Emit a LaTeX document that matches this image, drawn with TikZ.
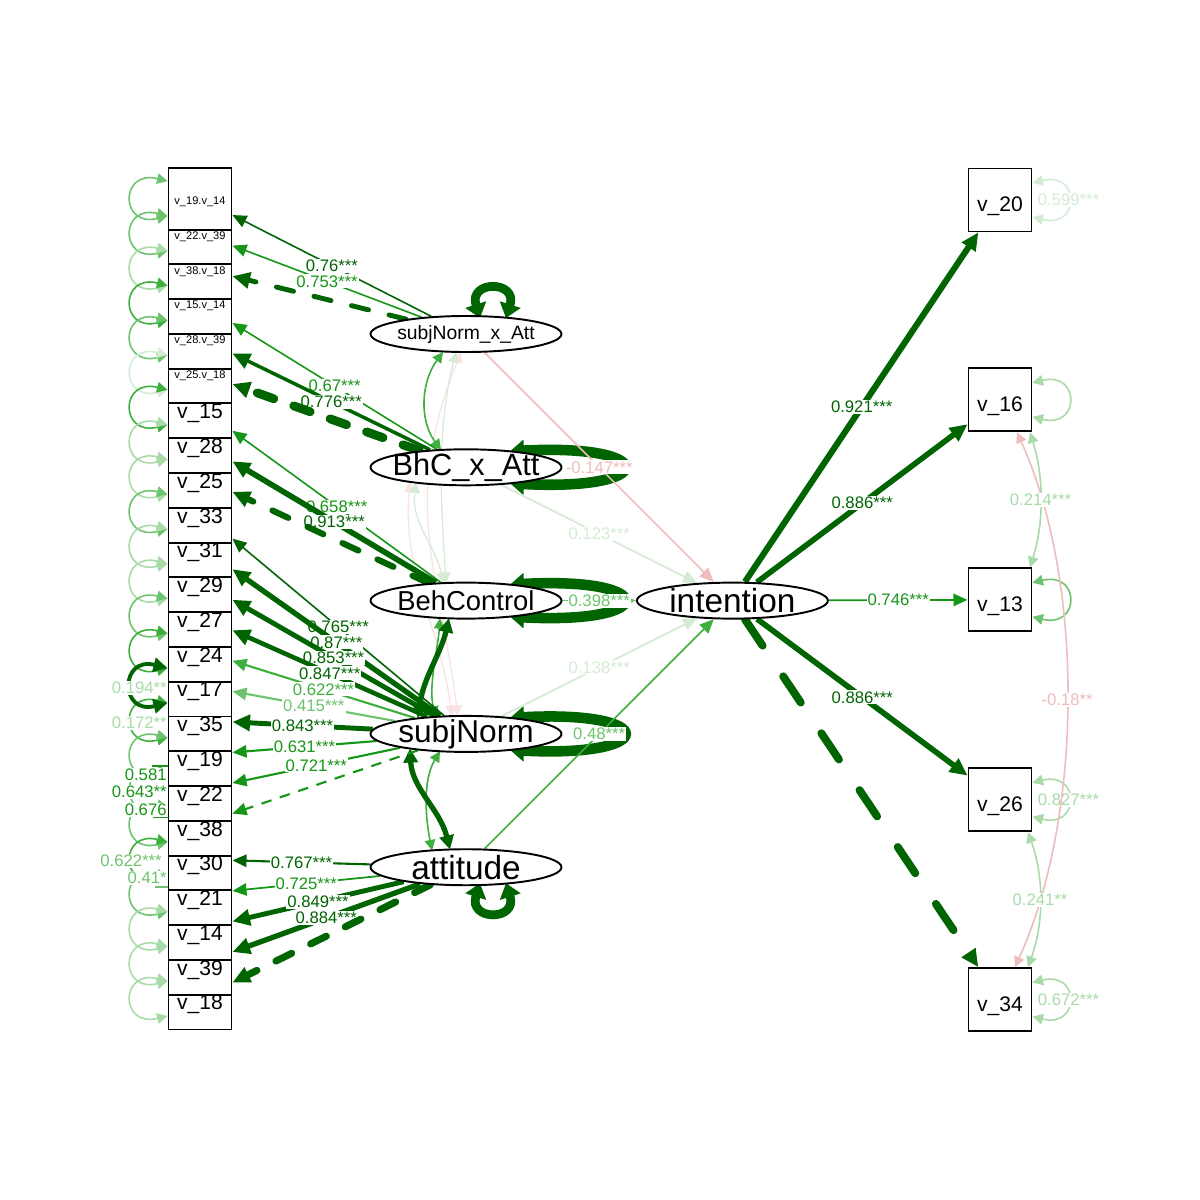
\documentclass[tikz,border=0pt]{standalone}
\usepackage{fontspec}
\setmainfont{Liberation Sans}
\usetikzlibrary{arrows.meta, shapes.geometric, positioning}
\pgfdeclarelayer{edgelayer}
\pgfsetlayers{edgelayer,main}
\definecolor{dkgr}{RGB}{0,100,0}
\definecolor{gr}{RGB}{22,150,22}
\definecolor{mgr}{RGB}{60,175,60}
\definecolor{lgr}{RGB}{110,196,110}
\definecolor{pgr}{RGB}{168,219,168}
\definecolor{vpgr}{RGB}{212,236,212}
\definecolor{pk}{RGB}{238,188,188}
\definecolor{vpk}{RGB}{248,226,226}
\tikzset{
  manif/.style={draw, line width=1.1pt, fill=white, minimum width=1.26cm, minimum height=1.24cm, inner sep=0pt, text height=13pt, text depth=0pt, font=\fontsize{12}{12}\selectfont},
  manifs/.style={manif, text height=6.7pt, font=\fontsize{6.3}{6.3}\selectfont},
  manr/.style={manif, minimum height=1.26cm},
  lat/.style={draw, ellipse, line width=1.1pt, fill=white, minimum width=3.82cm, minimum height=0.72cm, inner sep=0pt},
  ld/.style={-{Triangle[length=8pt,width=7pt]}},
  ldk/.style={-{Triangle[length=10pt,width=9pt]}},
  dsh/.style={dash pattern=on 10pt off 12pt, line cap=round},
  dvar/.style={{Triangle[length=6pt,width=6pt]}-{Triangle[length=6pt,width=6pt]}},
  dvarm/.style={{Triangle[length=8pt,width=8pt]}-{Triangle[length=8pt,width=8pt]}},
  dvark/.style={{Triangle[length=8pt,width=12pt]}-{Triangle[length=8pt,width=12pt]}},
  wlbl/.style={fill=white, inner sep=0.6pt, font=\fontsize{9.5}{9.5}\selectfont}
}
\begin{document}
\begin{tikzpicture}[x=0.02cm, y=-0.02cm]
  \useasboundingbox (0,0) rectangle (1200,1200);
  % item column, drawn from the bottom up
  \foreach \nm/\tx [count=\k from 0] in {v18/v\_18, v39/v\_39, v14/v\_14, v21/v\_21, v30/v\_30, v38/v\_38, v22/v\_22, v19/v\_19, v35/v\_35, v17/v\_17, v24/v\_24, v27/v\_27, v29/v\_29, v31/v\_31, v33/v\_33, v25/v\_25, v28/v\_28, v15/v\_15}
    \node[manif] (\nm) at (200,{998.5-34.78*\k}) {\tx};
  \foreach \nm/\tx [count=\k from 18] in {v25x18/v\_25.v\_18, v28x39/v\_28.v\_39, v15x14/v\_15.v\_14, v38x18/v\_38.v\_18, v22x39/v\_22.v\_39, v19x14/v\_19.v\_14}
    \node[manifs] (\nm) at (200,{998.5-34.78*\k}) {\tx};
  % latent variables
  \node[lat, label={[font=\fontsize{11}{11}\selectfont]center:subjNorm\_x\_Att}] (snxa) at (466,334) {};
  \node[lat, below=1.908cm of snxa, label={[font=\fontsize{17.5}{17.5}\selectfont]center:BhC\_x\_Att}] (bhcxa) {};
  \node[lat, below=1.908cm of bhcxa, label={[font=\fontsize{15.6}{15.6}\selectfont]center:BehControl}] (behc) {};
  \node[lat, below=1.908cm of behc, label={[font=\fontsize{18}{18}\selectfont]center:subjNorm}] (sn) {};
  \node[lat, below=1.908cm of sn, label={[font=\fontsize{19}{19}\selectfont]center:attitude}] (att) {};
  \node[lat, right=1.47cm of behc, label={[font=\fontsize{19}{19}\selectfont]center:intention}] (int) {};
  % outcome items
  \node[manr] (v20) at (1000,200) {v\_20};
  \node[manr, below=2.70cm of v20] (v16) {v\_16};
  \node[manr, below=2.70cm of v16] (v13) {v\_13};
  \node[manr, below=2.70cm of v13] (v26) {v\_26};
  \node[manr, below=2.70cm of v26] (v34) {v\_34};

  \begin{pgfonlayer}{edgelayer}
    \fill[white] (0,0) rectangle (1200,1200);
    % residual variances of the items
    \foreach \nm/\cl in {v19x14/lgr, v22x39/lgr, v38x18/pgr, v15x14/mgr, v28x39/lgr, v25x18/vpgr, v15/mgr, v28/pgr, v25/pgr, v33/lgr, v31/pgr, v29/pgr, v27/lgr, v24/mgr, v35/mgr, v19/lgr, v22/lgr, v38/lgr, v30/mgr, v21/lgr, v14/pgr, v39/pgr, v18/pgr}
      \draw[dvar, color=\cl, line width=0.9pt] ([shift={(0,-17.4)}]\nm.west) .. controls +(-48,-12) and +(-48,12) .. ([shift={(0,17.4)}]\nm.west);
    \draw[dvarm, dkgr, line width=2.2pt] ([shift={(0,-17.4)}]v17.west) .. controls +(-48,-12) and +(-48,12) .. ([shift={(0,17.4)}]v17.west);
    \draw[gr, line width=1.3pt] (152,766) -- (169,766);
    \draw[gr, line width=1.3pt] (160,788) -- (169,788);
    \draw[gr, line width=1.3pt] (153,817) -- (169,817);
    \draw[lgr, line width=1.3pt] (155,887) -- (169,887);
    \node[wlbl, text=pgr, anchor=east] (c194) at (168,688) {0.194**};
    \node[wlbl, text=pgr, anchor=east] (c172) at (168,723) {0.172**};
    \node[wlbl, text=gr, anchor=east] (c581) at (168,775) {0.581};
    \node[wlbl, text=gr, anchor=east] (c643) at (168,792) {0.643**};
    \node[wlbl, text=gr, anchor=east] (c676) at (168,810) {0.676};
    \node[wlbl, text=lgr, anchor=east] (c622) at (163,861) {0.622***};
    \node[wlbl, text=lgr, anchor=east] (c41) at (168,878) {0.41*};

    % latent covariances
    \draw[dvar, vpk, line width=0.7pt] ([shift={(-56,14.6)}]bhcxa.center) .. controls +(-8,90) and +(-12,-90) .. ([shift={(-14,-17.8)}]sn.center);
    \draw[dvar, vpk, line width=0.7pt] ([shift={(-5,18)}]snxa.center) .. controls +(-60,150) and +(-20,-150) .. ([shift={(-8,-17.9)}]sn.center);
    \draw[dvar, vpgr, line width=0.7pt] ([shift={(-10,18)}]snxa.center) .. controls +(-20,80) and +(-5,-80) .. ([shift={(-20,-17.6)}]behc.center);
    \draw[dvar, vpgr, line width=0.7pt] ([shift={(-50,15)}]bhcxa.center) .. controls +(-5,40) and +(-10,-40) .. ([shift={(-22,-17.5)}]behc.center);
    \draw[dvar, mgr, line width=0.9pt] ([shift={(-23,18)}]snxa.center) .. controls +(-22,30) and +(-22,-30) .. ([shift={(-25,-17.4)}]bhcxa.center);
    \draw[dvar, mgr, line width=0.9pt] ([shift={(-30,-17)}]sn.center) .. controls +(-8,-30) and +(-2,30) .. ([shift={(-26,17.5)}]behc.center);
    \draw[dvarm, dkgr, line width=3pt] ([shift={(-48,-15.6)}]sn.center) .. controls +(5,-40) and +(-8,35) .. ([shift={(-17,17.7)}]behc.center);
    \draw[dvar, mgr, line width=0.9pt] ([shift={(-26,17.3)}]sn.center) .. controls +(-18,30) and +(-6,-30) .. ([shift={(-34,-16.8)}]att.center);
    \draw[dvarm, dkgr, line width=3pt] ([shift={(-56,14.6)}]sn.center) .. controls +(2,40) and +(-10,-40) .. ([shift={(-16,-17.7)}]att.center);
    % latent variances
    \draw[dvark, dkgr, line width=5pt] ([shift={(14,-16)}]snxa.center) .. controls +(-12,-38) and +(12,-38) .. ([shift={(40,-16)}]snxa.center);
    \draw[dvark, dkgr, line width=5pt] ([shift={(14,16)}]att.center) .. controls +(-12,38) and +(12,38) .. ([shift={(40,16)}]att.center);
    \foreach \nm in {bhcxa, behc, sn}
      \draw[dvark, dkgr, line width=6pt] ([shift={(44,-16)}]\nm.center) .. controls +(150,-8) and +(150,8) .. ([shift={(44,16)}]\nm.center);

    % regressions on intention
    \draw[ld, pk, line width=0.9pt] (snxa) -- node[wlbl]{-0.147***} (int);
    \draw[ld, vpgr, line width=1pt] (bhcxa) -- node[wlbl]{0.123***} (int);
    \draw[ld, lgr, line width=1pt] (behc) -- node[wlbl]{0.398***} (int);
    \draw[ld, vpgr, line width=1pt] (sn) -- node[wlbl]{0.138***} (int);
    \draw[ld, mgr, line width=0.9pt] (att) -- node[wlbl, text=lgr]{0.48***} (int);

    % loadings
    \draw[ld, dkgr, line width=0.9pt] (snxa) -- node[wlbl]{0.76***} (v19x14);
    \draw[ld, gr, line width=0.9pt] (snxa) -- node[wlbl]{0.753***} (v22x39);
    \draw[ldk, dkgr, line width=2.8pt, dsh] (snxa) -- (v38x18);
    \draw[ld, gr, line width=0.9pt] (bhcxa) -- node[wlbl]{0.67***} (v15x14);
    \draw[ldk, dkgr, line width=2pt] (bhcxa) -- node[wlbl]{0.776***} (v28x39);
    \draw[ldk, dkgr, line width=5pt, dsh] (bhcxa) -- (v25x18);
    \draw[ld, gr, line width=0.9pt] (behc) -- node[wlbl]{0.658***} (v15);
    \draw[ldk, dkgr, line width=3.2pt] (behc) -- node[wlbl]{0.913***} (v28);
    \draw[ldk, dkgr, line width=3.5pt, dsh] (behc) -- (v25);
    \draw[ld, dkgr, line width=0.9pt] (sn) -- node[wlbl]{0.765***} (v33);
    \draw[ldk, dkgr, line width=3pt] (sn) -- node[wlbl]{0.87***} (v31);
    \draw[ldk, dkgr, line width=2.8pt] (sn) -- node[wlbl]{0.853***} (v29);
    \draw[ldk, dkgr, line width=2.6pt] (sn) -- node[wlbl]{0.847***} (v27);
    \draw[ld, mgr, line width=1.2pt] (sn) -- node[wlbl]{0.622***} (v24);
    \draw[ld, lgr, line width=1.2pt] (sn) -- node[wlbl]{0.415***} (v17);
    \draw[ldk, dkgr, line width=2.8pt] (sn) -- node[wlbl]{0.843***} (v35);
    \draw[ld, gr, line width=1.2pt] (sn) -- node[wlbl]{0.631***} (v19);
    \draw[ld, gr, line width=1.2pt] (sn) -- node[wlbl]{0.721***} (v22);
    \draw[ld, gr, line width=1.2pt, dash pattern=on 6pt off 5pt] (sn) -- (v38);
    \draw[ld, dkgr, line width=1.2pt] (att) -- node[wlbl]{0.767***} (v30);
    \draw[ld, gr, line width=1pt] (att) -- node[wlbl]{0.725***} (v21);
    \draw[ldk, dkgr, line width=2.8pt] (att) -- node[wlbl]{0.849***} (v14);
    \draw[ldk, dkgr, line width=3pt] (att) -- node[wlbl]{0.884***} (v39);
    \draw[ldk, dkgr, line width=4pt, dsh] (att) -- (v18);
    \draw[ldk, dkgr, line width=3.5pt] (int) -- node[wlbl]{0.921***} (v20);
    \draw[ldk, dkgr, line width=3.2pt] (int) -- node[wlbl]{0.886***} (v16);
    \draw[ld, gr, line width=1pt] (int) -- node[wlbl]{0.746***} (v13);
    \draw[ldk, dkgr, line width=3.2pt] (int) -- node[wlbl]{0.886***} (v26);
    \draw[ldk, dkgr, line width=4.5pt, dash pattern=on 18pt off 21pt, line cap=round] (int) -- (v34);

    % outcome residuals and covariances
    \draw[dvar, vpgr, line width=0.9pt] ([shift={(0,-17)}]v20.east) .. controls +(48,-12) and +(48,12) .. ([shift={(0,17)}]v20.east) node[wlbl, pos=.5]{0.599***};
    \draw[dvar, pgr, line width=0.9pt] ([shift={(0,-17)}]v16.east) .. controls +(48,-12) and +(48,12) .. ([shift={(0,17)}]v16.east);
    \draw[dvar, lgr, line width=0.9pt] ([shift={(0,-17)}]v13.east) .. controls +(48,-12) and +(48,12) .. ([shift={(0,17)}]v13.east);
    \draw[dvar, pgr, line width=0.9pt] ([shift={(0,-17)}]v26.east) .. controls +(48,-12) and +(48,12) .. ([shift={(0,17)}]v26.east) node[wlbl, pos=.5]{0.827***};
    \draw[dvar, pgr, line width=0.9pt] ([shift={(0,-17)}]v34.east) .. controls +(48,-12) and +(48,12) .. ([shift={(0,17)}]v34.east) node[wlbl, pos=.5]{0.672***};
    \draw[dvar, pk, line width=0.9pt] ([shift={(17,0)}]v16.south) .. controls +(68,150) and +(68,-150) .. ([shift={(15,0)}]v34.north) node[wlbl, pos=.5]{-0.18**};
    \draw[dvar, pgr, line width=0.9pt] ([shift={(30,0)}]v16.south) .. controls +(14,45) and +(14,-45) .. ([shift={(30,0)}]v13.north) node[wlbl, pos=.5]{0.214***};
    \draw[dvar, pgr, line width=0.9pt] ([shift={(28,0)}]v26.south) .. controls +(16,45) and +(16,-45) .. ([shift={(28,0)}]v34.north) node[wlbl, pos=.5]{0.241**};
  \end{pgfonlayer}
\end{tikzpicture}
\end{document}
